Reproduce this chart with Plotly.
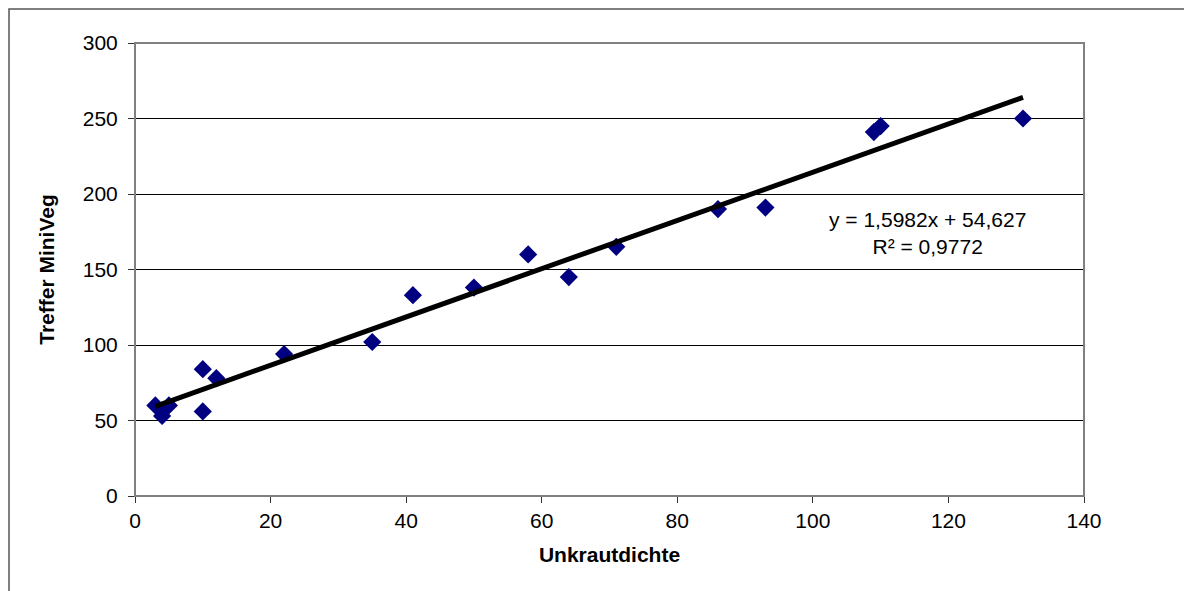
import numpy as np
import plotly.graph_objects as go

# Unkrautdichte vs. Treffer MiniVeg
unkrautdichte = [3, 4, 5, 10, 10, 12, 22, 35, 41, 50, 58, 64, 71, 86, 93, 109, 110, 131]
treffer = [60, 53, 60, 84, 56, 78, 94, 102, 133, 138, 160, 145, 165, 190, 191, 241, 245, 250]

# linear trendline as shown on the chart
slope = 1.5982
intercept = 54.627
r2 = 0.9772

# page body has an 8px margin, so the figure is a bit smaller than the window
W, H = 1184, 583
ml, mr, mt, mb = 127, 108, 35, 95
pw = W - ml - mr
ph = H - mt - mb

trend_x = np.array([min(unkrautdichte), max(unkrautdichte)])
trend_y = slope * trend_x + intercept

fig = go.Figure()
fig.add_trace(go.Scatter(x=unkrautdichte, y=treffer, mode='markers',
                         marker=dict(symbol='diamond', size=14, color='#000080',
                                     line=dict(width=0)),
                         showlegend=False))
# trendline sits on top of the markers, like in Excel
fig.add_trace(go.Scatter(x=trend_x, y=trend_y, mode='lines',
                         line=dict(color='black', width=5),
                         showlegend=False))

# outer chart frame (Excel style)
fig.add_shape(type='rect', xref='paper', yref='paper',
              x0=(1 - ml) / pw, x1=(W + 10 - ml) / pw,
              y0=-(H + 10 - mt - ph) / ph, y1=(H - mb - 1) / ph,
              line=dict(color='#555555', width=1.5), layer='below')
# plot area frame
fig.add_shape(type='rect', xref='paper', yref='paper', x0=0, x1=1, y0=0, y1=1,
              line=dict(color='#808080', width=2))

eq = 'y = {}x + {}'.format(str(slope).replace('.', ','), str(intercept).replace('.', ','))
rr = 'R² = {}'.format(str(r2).replace('.', ','))
fig.add_annotation(x=(919 - ml) / pw, y=(H - mb - 225) / ph, xref='paper', yref='paper',
                   xanchor='center', yanchor='middle',
                   text=eq + '<br>' + rr, showarrow=False, align='center',
                   font=dict(family='Arial', size=21, color='black'))

fig.update_layout(
    width=W, height=H,
    margin=dict(l=ml, r=mr, t=mt, b=mb),
    paper_bgcolor='white', plot_bgcolor='white',
    font=dict(family='Arial', size=21, color='black'),
    xaxis=dict(range=[0, 140], dtick=20, showgrid=False, zeroline=False,
               ticks='outside', ticklen=6, tickcolor='#333333', showline=False,
               title=dict(text='<b>Unkrautdichte</b>', font=dict(size=21), standoff=16)),
    yaxis=dict(range=[0, 300], dtick=50, showgrid=True, gridcolor='black', gridwidth=1,
               zeroline=False, ticks='outside', ticklen=6, tickcolor='#333333', showline=False,
               ticklabelstandoff=6,
               title=dict(text='<b>Treffer MiniVeg</b>', font=dict(size=21), standoff=22)),
)

fig.write_html("out.html")
